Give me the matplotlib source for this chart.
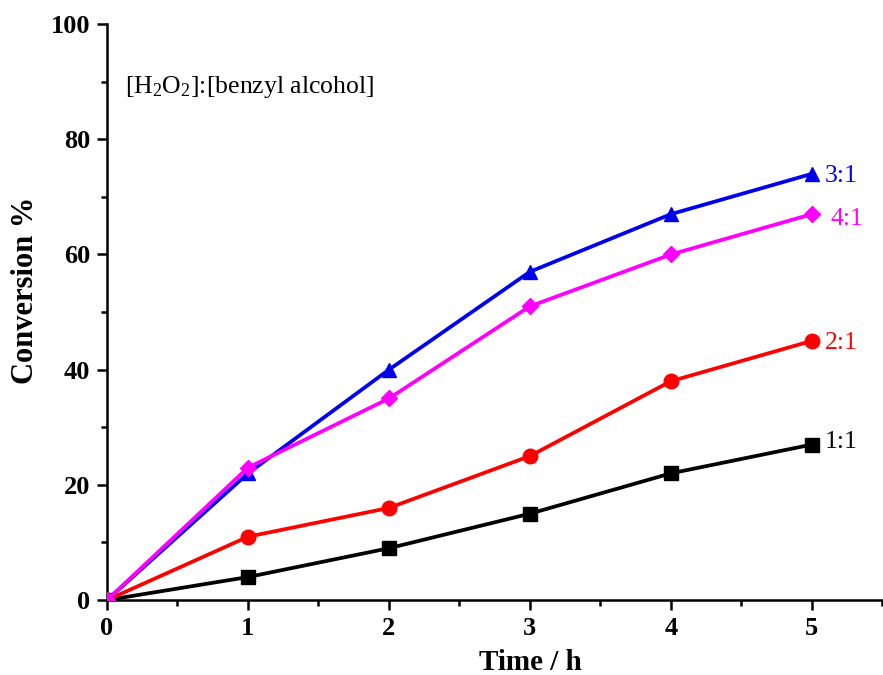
import matplotlib
matplotlib.use("Agg")
import matplotlib.pyplot as plt
from matplotlib.ticker import MultipleLocator

plt.rcParams['font.family'] = ['Liberation Serif', 'DejaVu Serif']
plt.rcParams['mathtext.fontset'] = 'custom'
plt.rcParams['mathtext.rm'] = 'Liberation Serif'
plt.rcParams['mathtext.it'] = 'Liberation Serif:italic'
plt.rcParams['mathtext.bf'] = 'Liberation Serif:bold'

time_h = [0, 1, 2, 3, 4, 5]
ratio_labels = ['1:1', '2:1', '3:1', '4:1']
conv_1_1 = [0, 4, 9, 15, 22, 27]
conv_2_1 = [0, 11, 16, 25, 38, 45]
conv_3_1 = [0, 22, 40, 57, 67, 74]
conv_4_1 = [0, 23, 35, 51, 60, 67]

series = [
    (conv_1_1, 'black', 's', 9.5),
    (conv_2_1, 'red', 'o', 10.5),
    (conv_3_1, '#0000ee', '^', 10.5),
    (conv_4_1, '#ff00ff', 'D', 8.5),
]
# label offsets from last point (data units)
label_offsets = {'1:1': (0.09, 0.5), '2:1': (0.09, -0.4), '3:1': (0.09, -0.4), '4:1': (0.13, -0.8)}

fig = plt.figure(figsize=(8.83, 6.75), dpi=100)
ax = fig.add_axes([0.1212, 0.111, 0.878, 0.8533])

for (vals, color, marker, ms), lab in zip(series, ratio_labels):
    ax.plot(time_h, vals, color=color, marker=marker, markersize=ms,
            linewidth=2.7, zorder=3)
    dx, dy = label_offsets[lab]
    ax.text(time_h[-1] + dx, vals[-1] + dy, lab, color=color, fontsize=18.5,
            va='center', ha='left')

ax.text(0.13, 89, '[H$_2$O$_2$]:[benzyl alcohol]', fontsize=18.5, va='center', ha='left')

ax.set_xlim(0, 5.5)
ax.set_ylim(0, 100)
ax.xaxis.set_major_locator(MultipleLocator(1))
ax.xaxis.set_minor_locator(MultipleLocator(0.5))
ax.yaxis.set_major_locator(MultipleLocator(20))
ax.yaxis.set_minor_locator(MultipleLocator(10))
ax.set_xticks([0, 1, 2, 3, 4, 5])

for s in ['top', 'right']:
    ax.spines[s].set_visible(False)
for s in ['left', 'bottom']:
    ax.spines[s].set_linewidth(1.8)

ax.tick_params(which='major', direction='out', length=7, width=1.8, labelsize=19, pad=5)
ax.tick_params(which='minor', direction='out', length=4.5, width=1.8)
for t in ax.get_xticklabels() + ax.get_yticklabels():
    t.set_fontweight('bold')

ax.set_xlabel('Time / h', fontsize=21, fontweight='bold')
ax.set_ylabel('Conversion %', fontsize=22, fontweight='bold')
ax.xaxis.set_label_coords(0.546, -0.085)
ax.yaxis.set_label_coords(-0.086, 0.538)

fig.savefig('out.png', dpi=100, facecolor='white')
